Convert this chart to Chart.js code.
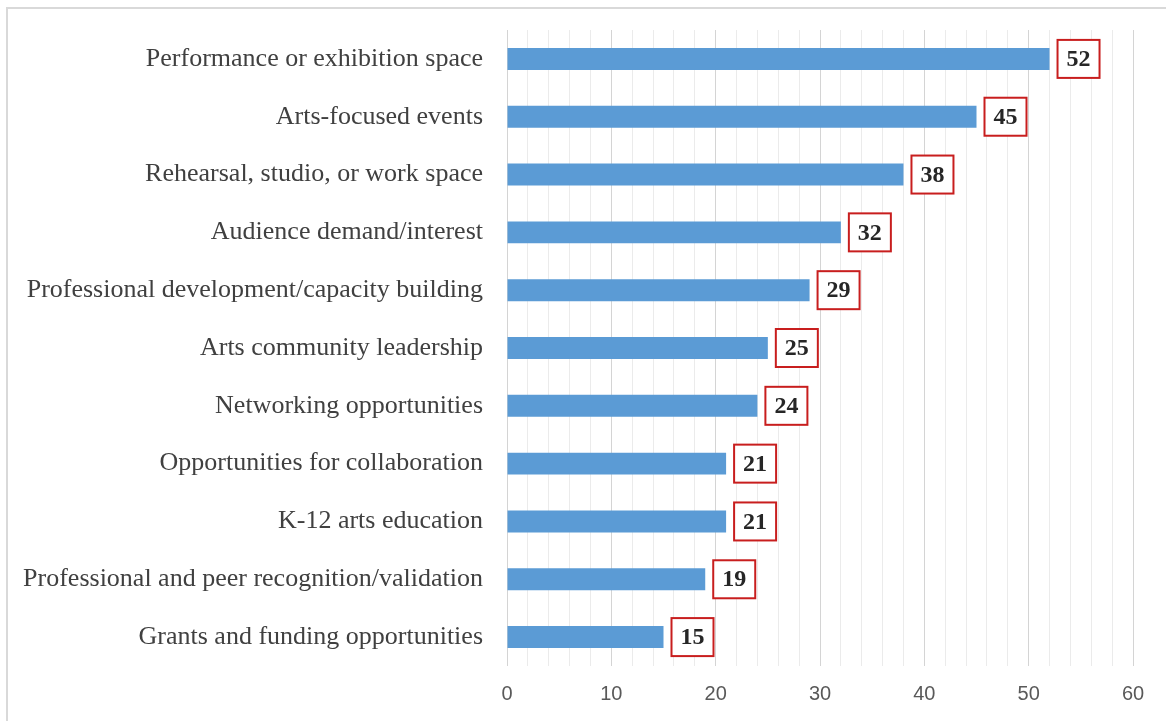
<!DOCTYPE html>
<html>
<head>
<meta charset="utf-8">
<script src="https://cdn.jsdelivr.net/npm/chart.js@4/dist/chart.umd.min.js"></script>
<style>
  html, body { margin: 0; padding: 0; background: #fff; overflow: hidden; }
  #wrap { position: relative; width: 1166px; height: 721px; }
  #frame {
    position: absolute; left: 6px; top: 7px; width: 1300px; height: 800px;
    border-left: 2px solid #d9d9d9; border-top: 2px solid #d9d9d9;
  }
  #chart { position: absolute; left: 0; top: 0; }
</style>
</head>
<body>
<div id="wrap">
  <div id="frame"></div>
  <canvas id="chart" width="1166" height="721"></canvas>
</div>
<script>
const categories = [
  "Performance or exhibition space",
  "Arts-focused events",
  "Rehearsal, studio, or work space",
  "Audience demand/interest",
  "Professional development/capacity building",
  "Arts community leadership",
  "Networking opportunities",
  "Opportunities for collaboration",
  "K-12 arts education",
  "Professional and peer recognition/validation",
  "Grants and funding opportunities"
];
const counts = [52, 45, 38, 32, 29, 25, 24, 21, 21, 19, 15];
const xTicks = [0, 10, 20, 30, 40, 50, 60];

// value labels in a red box just past the end of each bar
const boxedLabels = {
  id: 'boxedLabels',
  afterDatasetsDraw(chart) {
    let ctx = chart.ctx;
    let meta = chart.getDatasetMeta(0);
    ctx.save();
    ctx.font = 'bold 24px "Liberation Serif", "Times New Roman", serif';
    ctx.textAlign = 'center';
    ctx.textBaseline = 'middle';
    meta.data.forEach((bar, i) => {
      let w = 42, h = 38;
      let left = bar.x + 8;
      let top = bar.y - h / 2;
      ctx.fillStyle = '#ffffff';
      ctx.fillRect(left, top, w, h);
      ctx.strokeStyle = '#c81e1e';
      ctx.lineWidth = 2;
      ctx.strokeRect(left, top, w, h);
      ctx.fillStyle = '#262626';
      ctx.fillText(String(counts[i]), left + w / 2, bar.y + 1);
    });
    ctx.restore();
  }
};

let ctx = document.getElementById('chart').getContext('2d');
let chart = new Chart(ctx, {
  type: 'bar',
  data: {
    labels: categories,
    datasets: [{
      data: counts,
      backgroundColor: '#5b9bd5',
      borderWidth: 0,
      barPercentage: 0.38,
      categoryPercentage: 1.0
    }]
  },
  options: {
    indexAxis: 'y',
    responsive: false,
    animation: false,
    layout: { padding: { top: 30, right: 33, left: 0, bottom: 0 } },
    plugins: {
      legend: { display: false },
      tooltip: { enabled: false }
    },
    scales: {
      x: {
        min: 0,
        max: 60,
        ticks: {
          stepSize: 2,
          autoSkip: false,
          maxRotation: 0,
          padding: 16,
          color: '#595959',
          font: { family: '"Liberation Sans", Arial, sans-serif', size: 20 },
          callback: v => xTicks.includes(v) ? String(v) : ''
        },
        grid: {
          drawTicks: false,
          lineWidth: 1,
          color: c => (c.tick && c.tick.value % 10 === 0) ? '#d4d4d4' : '#ebebeb'
        },
        border: { display: false },
        afterFit: s => { s.height = 55; }
      },
      y: {
        ticks: {
          padding: 24,
          color: '#404040',
          font: { family: '"Liberation Serif", "Times New Roman", serif', size: 26 }
        },
        grid: { display: false, drawTicks: false },
        border: { display: false },
        afterFit: s => {
          s.width = 507;
          s.paddingTop = 0;
          s.paddingBottom = 0;
        }
      }
    }
  },
  plugins: [boxedLabels]
});
</script>
</body>
</html>
